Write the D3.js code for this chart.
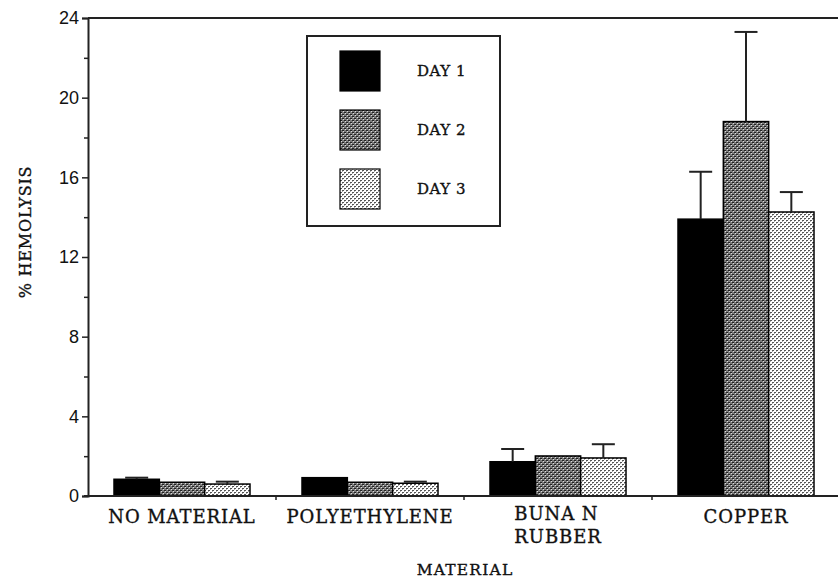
<!DOCTYPE html>
<html><head><meta charset="utf-8">
<script src="https://cdn.jsdelivr.net/npm/d3@7"></script>
<style>body{margin:0;background:#fff}svg{display:block}</style>
</head><body>
<svg id="chart" width="838" height="578"></svg>
<script>
const categories = ["NO MATERIAL", "POLYETHYLENE", "BUNA N\nRUBBER", "COPPER"];
const seriesNames = ["DAY 1", "DAY 2", "DAY 3"];
const day1 = [0.84, 0.92, 1.72, 13.9];
const day2 = [0.69, 0.69, 2.01, 18.8];
const day3 = [0.6, 0.64, 1.91, 14.26];
const err1 = [0.08, 0, 0.64, 2.38];
const err2 = [0, 0, 0, 4.5];
const err3 = [0.12, 0.08, 0.69, 1.0];
const yTicks = [0, 4, 8, 12, 16, 20, 24];
const yMinorTicks = [2, 6, 10, 14, 18, 22];

const values = [day1, day2, day3];
const errors = [err1, err2, err3];

const svg = d3.select("#chart");
const defs = svg.append("defs");

// Day 2 pattern: dark grey checker texture
const p2 = defs.append("pattern").attr("id", "pat2").attr("patternUnits", "userSpaceOnUse")
  .attr("width", 4).attr("height", 4);
p2.append("rect").attr("width", 4).attr("height", 4).attr("fill", "#7a7a7a");
p2.append("rect").attr("x", 0).attr("y", 0).attr("width", 2).attr("height", 1).attr("fill", "#222");
p2.append("rect").attr("x", 2).attr("y", 2).attr("width", 2).attr("height", 1).attr("fill", "#222");
p2.append("rect").attr("x", 1).attr("y", 1).attr("width", 1).attr("height", 1).attr("fill", "#ddd");
p2.append("rect").attr("x", 3).attr("y", 3).attr("width", 1).attr("height", 1).attr("fill", "#ddd");

// Day 3 pattern: white with grey dots
const p3 = defs.append("pattern").attr("id", "pat3").attr("patternUnits", "userSpaceOnUse")
  .attr("width", 4).attr("height", 4);
p3.append("rect").attr("width", 4).attr("height", 4).attr("fill", "#fff");
p3.append("rect").attr("x", 0).attr("y", 0).attr("width", 2).attr("height", 1).attr("fill", "#555");
p3.append("rect").attr("x", 2).attr("y", 2).attr("width", 2).attr("height", 1).attr("fill", "#555");
p3.append("rect").attr("x", 0).attr("y", 1).attr("width", 1).attr("height", 1).attr("fill", "#aaa");
p3.append("rect").attr("x", 2).attr("y", 3).attr("width", 1).attr("height", 1).attr("fill", "#aaa");

const fills = ["#000", "url(#pat2)", "url(#pat3)"];

const x0 = d3.scaleBand().domain(categories).range([88, 840]).paddingInner(0.2766).paddingOuter(0.1383);
const x1 = d3.scaleBand().domain(seriesNames).range([0, x0.bandwidth()]).padding(0);
const y = d3.scaleLinear().domain([0, 24]).range([496, 18]);

const serif = "'DejaVu Serif', serif";
const sans = "'Liberation Sans', Arial, sans-serif";

// bars
categories.forEach((c, ci) => {
  const g = svg.append("g").attr("transform", `translate(${x0(c)},0)`);
  seriesNames.forEach((s, si) => {
    const v = values[si][ci];
    g.append("rect")
      .attr("x", x1(s)).attr("y", y(v))
      .attr("width", x1.bandwidth()).attr("height", y(0) - y(v))
      .attr("fill", fills[si]).attr("stroke", "#000").attr("stroke-width", 1.5);
  });
  // error bars
  seriesNames.forEach((s, si) => {
    const v = values[si][ci], e = errors[si][ci];
    if (e <= 0) return;
    const cx = x1(s) + x1.bandwidth() / 2;
    g.append("line").attr("x1", cx).attr("x2", cx).attr("y1", y(v)).attr("y2", y(v + e))
      .attr("stroke", "#222").attr("stroke-width", 2);
    g.append("line").attr("x1", cx - 11.5).attr("x2", cx + 11.5).attr("y1", y(v + e)).attr("y2", y(v + e))
      .attr("stroke", "#222").attr("stroke-width", 2);
  });
});

// frame: top line
svg.append("line").attr("x1", 88).attr("x2", 838).attr("y1", y(24)).attr("y2", y(24))
  .attr("stroke", "#222").attr("stroke-width", 2);

// y axis
const yAxis = d3.axisLeft(y).tickValues(yTicks).tickSize(6).tickPadding(3).tickFormat(d3.format("d"));
const ya = svg.append("g").attr("transform", "translate(88,0)").call(yAxis);
ya.select(".domain").attr("stroke", "#222").attr("stroke-width", 2);
ya.selectAll(".tick line").attr("stroke", "#222").attr("stroke-width", 1.5);
ya.selectAll(".tick text").attr("font-family", sans).attr("font-size", 18).attr("fill", "#111");
const yMinor = d3.axisLeft(y).tickValues(yMinorTicks).tickSize(4).tickFormat("");
const ym = svg.append("g").attr("transform", "translate(88,0)").call(yMinor);
ym.select(".domain").remove();
ym.selectAll(".tick line").attr("stroke", "#222").attr("stroke-width", 1.5);

// x axis
svg.append("line").attr("x1", 84).attr("x2", 838).attr("y1", y(0)).attr("y2", y(0))
  .attr("stroke", "#222").attr("stroke-width", 2);
categories.slice(1).forEach(c => {
  const bx = x0(c) - x0.step() * x0.paddingInner() / 2;
  svg.append("line").attr("x1", bx).attr("x2", bx).attr("y1", y(0)).attr("y2", y(0) + 4)
    .attr("stroke", "#222").attr("stroke-width", 1.5);
});

// category labels
const bold = t => t.attr("stroke", "#111").attr("stroke-width", 0.35);
categories.forEach(c => {
  const cx = x0(c) + x0.bandwidth() / 2;
  const lines = c.split("\n");
  const t = svg.append("text").attr("font-family", serif).attr("font-size", 18)
    .attr("letter-spacing", 0.9).attr("fill", "#111");
  bold(t);
  if (lines.length === 1) {
    t.append("tspan").attr("x", cx).attr("y", 523).attr("text-anchor", "middle").text(lines[0]);
  } else {
    const spans = lines.map((ln, i) => t.append("tspan").attr("y", 520 + i * 23).text(ln));
    const w = d3.max(spans, s => s.node().getComputedTextLength());
    spans.forEach(s => s.attr("x", cx - w / 2));
  }
});

// axis titles
bold(svg.append("text").attr("x", 465).attr("y", 575).attr("text-anchor", "middle")
  .attr("font-family", serif).attr("font-size", 15.5).attr("letter-spacing", 1.2).attr("fill", "#111")
  .text("MATERIAL"));
bold(svg.append("text").attr("transform", "translate(31,232) rotate(-90)").attr("text-anchor", "middle")
  .attr("font-family", serif).attr("font-size", 16).attr("letter-spacing", 0.8).attr("fill", "#111")
  .text("% HEMOLYSIS"));

// legend
const lg = svg.append("g");
lg.append("rect").attr("x", 307).attr("y", 36).attr("width", 193).attr("height", 190)
  .attr("fill", "#fff").attr("stroke", "#222").attr("stroke-width", 2);
seriesNames.forEach((s, i) => {
  const ly = 51 + i * 59;
  lg.append("rect").attr("x", 340).attr("y", ly).attr("width", 40).attr("height", 40)
    .attr("fill", fills[i]).attr("stroke", "#000").attr("stroke-width", 1.2);
  bold(lg.append("text").attr("x", 417).attr("y", ly + 25).attr("font-family", serif).attr("font-size", 15)
    .attr("letter-spacing", 0.5).attr("fill", "#111").text(s));
});
</script>
</body></html>
